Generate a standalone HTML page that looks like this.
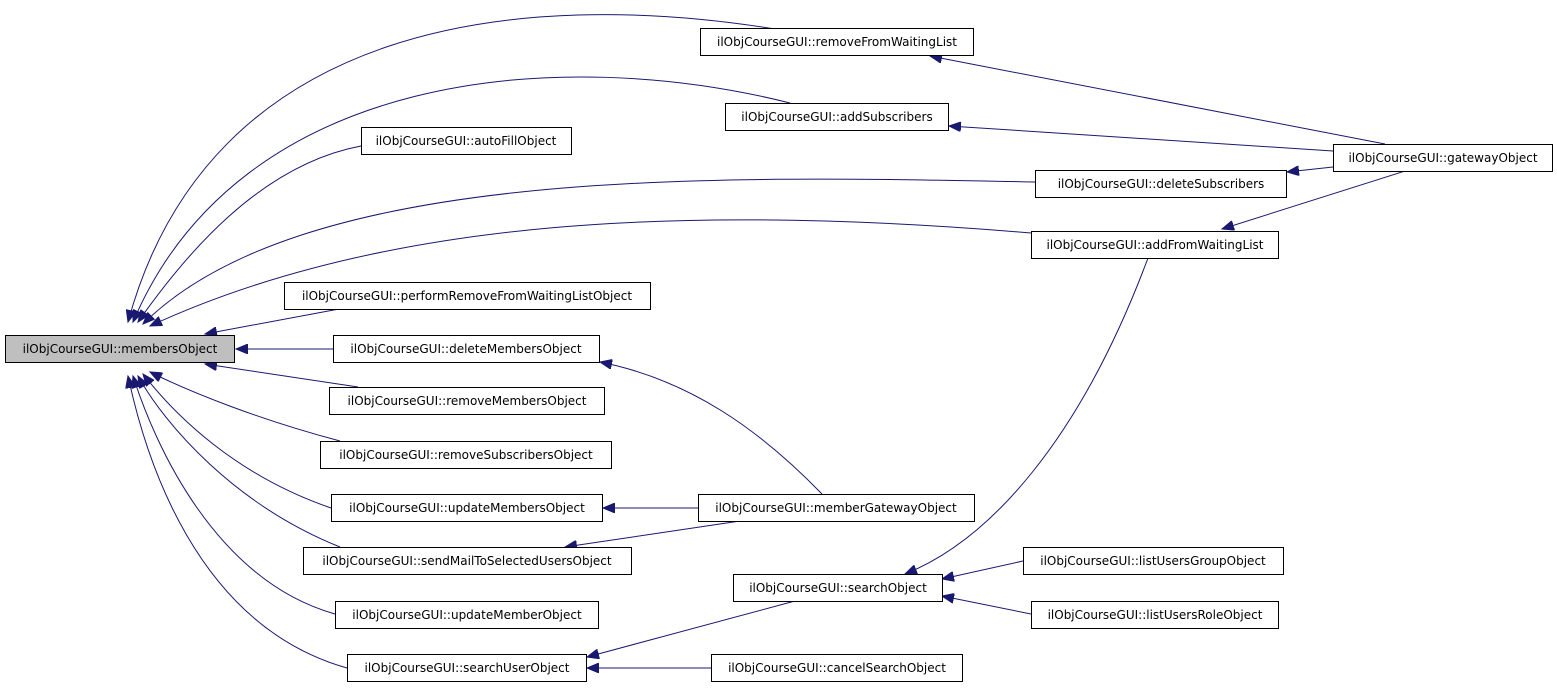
<!DOCTYPE html>
<html><head><meta charset="utf-8"><style>
html,body{margin:0;padding:0;background:#fff;}
svg{display:block;}
text{font-family:"DejaVu Sans","Liberation Sans",sans-serif;font-size:12px;fill:#000;}
</style></head><body>
<svg width="1557" height="689" viewBox="0 0 1557 689" xmlns="http://www.w3.org/2000/svg">
<defs>
<marker id="a" markerUnits="userSpaceOnUse" markerWidth="14" markerHeight="10" refX="12" refY="5" orient="auto">
<path d="M0,0 L12,5 L0,10 z" fill="#191970" stroke="#191970"/>
</marker>
</defs>
<g fill="none" stroke="#191970" stroke-width="1" marker-end="url(#a)">
<path d="M775,29 C520,-12 210,20 128,322"/>
<path d="M790,103 C560,45 240,70 133,322"/>
<path d="M361,146 C260,165 185,255 138,322"/>
<path d="M1035,182 C700,175 300,168 143,324"/>
<path d="M1031,233 C700,205 390,215 150,326"/>
<path d="M339,309 L205,334"/>
<path d="M333,349 L236,349"/>
<path d="M358,387 L205,364"/>
<path d="M340,441 C260,420 190,392 150,372"/>
<path d="M331,508 C235,475 175,415 143,374"/>
<path d="M340,547 C235,505 165,425 138,376"/>
<path d="M335,614 C215,580 155,445 133,376"/>
<path d="M347,668 C195,625 145,455 128,376"/>
<path d="M1385,144 L930,56"/>
<path d="M1333,151 L949,126"/>
<path d="M1333,167 L1287,172"/>
<path d="M1405,171 L1222,229"/>
<path d="M822,494 C760,430 690,380 600,362"/>
<path d="M698,508 L603,508"/>
<path d="M740,521 L565,547"/>
<path d="M1148,258 C1080,440 990,540 905,574"/>
<path d="M795,601 L587,657"/>
<path d="M1023,561 L942,579"/>
<path d="M1031,614 L942,596"/>
<path d="M711,668 L587,668"/>
</g>
<g stroke="#000" stroke-width="1">
<rect x="5.5" y="335.5" width="229" height="27" fill="#bfbfbf"/>
<rect x="700.5" y="28.5" width="273" height="27" fill="#fff"/>
<rect x="725.5" y="103.5" width="223" height="27" fill="#fff"/>
<rect x="361.5" y="127.5" width="210" height="27" fill="#fff"/>
<rect x="1035.5" y="170.5" width="251" height="27" fill="#fff"/>
<rect x="1333.5" y="144.5" width="219" height="27" fill="#fff"/>
<rect x="1031.5" y="231.5" width="247" height="27" fill="#fff"/>
<rect x="284.5" y="282.5" width="366" height="27" fill="#fff"/>
<rect x="333.5" y="335.5" width="266" height="27" fill="#fff"/>
<rect x="329.5" y="387.5" width="275" height="27" fill="#fff"/>
<rect x="320.5" y="441.5" width="291" height="27" fill="#fff"/>
<rect x="331.5" y="494.5" width="271" height="27" fill="#fff"/>
<rect x="698.5" y="494.5" width="276" height="27" fill="#fff"/>
<rect x="303.5" y="547.5" width="328" height="27" fill="#fff"/>
<rect x="733.5" y="574.5" width="209" height="27" fill="#fff"/>
<rect x="1023.5" y="547.5" width="260" height="27" fill="#fff"/>
<rect x="1031.5" y="601.5" width="247" height="27" fill="#fff"/>
<rect x="335.5" y="601.5" width="263" height="27" fill="#fff"/>
<rect x="347.5" y="654.5" width="239" height="27" fill="#fff"/>
<rect x="711.5" y="654.5" width="251" height="27" fill="#fff"/>
</g>
<g text-anchor="middle">
<text x="120" y="353">ilObjCourseGUI::membersObject</text>
<text x="837" y="46">ilObjCourseGUI::removeFromWaitingList</text>
<text x="837" y="121">ilObjCourseGUI::addSubscribers</text>
<text x="466" y="145">ilObjCourseGUI::autoFillObject</text>
<text x="1161" y="188">ilObjCourseGUI::deleteSubscribers</text>
<text x="1443" y="162">ilObjCourseGUI::gatewayObject</text>
<text x="1155" y="249">ilObjCourseGUI::addFromWaitingList</text>
<text x="467" y="300">ilObjCourseGUI::performRemoveFromWaitingListObject</text>
<text x="466" y="353">ilObjCourseGUI::deleteMembersObject</text>
<text x="467" y="405">ilObjCourseGUI::removeMembersObject</text>
<text x="466" y="459">ilObjCourseGUI::removeSubscribersObject</text>
<text x="467" y="512">ilObjCourseGUI::updateMembersObject</text>
<text x="836" y="512">ilObjCourseGUI::memberGatewayObject</text>
<text x="467" y="565">ilObjCourseGUI::sendMailToSelectedUsersObject</text>
<text x="838" y="592">ilObjCourseGUI::searchObject</text>
<text x="1153" y="565">ilObjCourseGUI::listUsersGroupObject</text>
<text x="1155" y="619">ilObjCourseGUI::listUsersRoleObject</text>
<text x="467" y="619">ilObjCourseGUI::updateMemberObject</text>
<text x="467" y="672">ilObjCourseGUI::searchUserObject</text>
<text x="837" y="672">ilObjCourseGUI::cancelSearchObject</text>
</g>
</svg>
</body></html>
